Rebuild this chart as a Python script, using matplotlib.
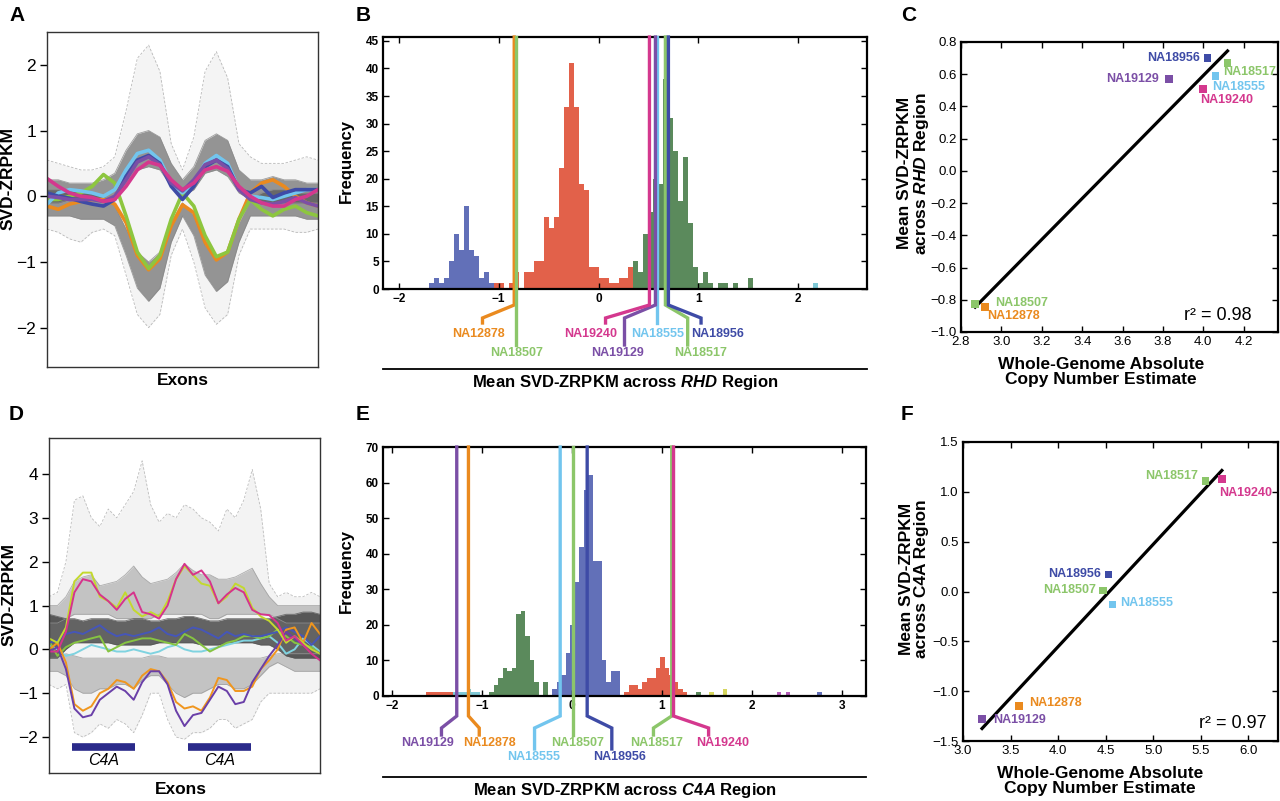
import numpy as np
import matplotlib
matplotlib.use("Agg")
import matplotlib.pyplot as plt
from matplotlib.lines import Line2D
from matplotlib.transforms import blended_transform_factory
from matplotlib.ticker import FixedLocator, FuncFormatter

plt.rcParams['font.family'] = ['Liberation Sans', 'DejaVu Sans']
plt.rcParams['mathtext.fontset'] = 'custom'
plt.rcParams['mathtext.it'] = 'Liberation Sans:italic:bold'
plt.rcParams['mathtext.rm'] = 'Liberation Sans:bold'

# ----------------------------------------------------------------- data
samples = ['NA12878', 'NA18507', 'NA18517', 'NA18555', 'NA18956', 'NA19129', 'NA19240']
sample_colors = {'NA12878': '#ea8a1f', 'NA18507': '#8cc66a', 'NA18517': '#8cc66a',
                 'NA18555': '#72c5ee', 'NA18956': '#3e4ba6', 'NA19129': '#7b4fa6',
                 'NA19240': '#d4388e'}

# RHD region (panels B, C)
rhd_mean = [-0.845, -0.825, 0.67, 0.59, 0.70, 0.57, 0.51]
rhd_copy_number = [2.92, 2.87, 4.12, 4.06, 4.02, 3.83, 4.00]
rhd_r2 = 0.98
# C4A region (panels E, F)
c4a_mean = [-1.15, 0.01, 1.11, -0.13, 0.17, -1.28, 1.13]
c4a_copy_number = [3.59, 4.47, 5.55, 4.57, 4.53, 3.20, 5.72]
c4a_r2 = 0.97

# Panel B histogram (bin width 0.05)
rhd_bin_width = 0.05
rhd_blue_start = -1.70
rhd_blue_counts = [1, 2, 1, 2, 5, 10, 7, 15, 7, 6, 2, 3, 1]
rhd_red_start = -1.05
rhd_red_counts = [1, 1, 0, 1, 3, 0, 3, 3, 5, 5, 13, 11, 13, 22, 33, 41, 33, 19, 18,
                  4, 4, 2, 2, 1, 1, 2, 2, 4]
rhd_green_start = 0.35
rhd_green_counts = [5, 3, 10, 14, 20, 19, 38, 31, 25, 16, 24, 12, 4, 1, 3, 1, 0, 1, 1,
                    0, 1, 0, 0, 2]
rhd_cyan_start = 2.15
rhd_cyan_counts = [1]

# Panel E histogram (bin width 0.05)
c4a_bin_width = 0.05
c4a_redlow_start = -1.62
c4a_redlow_counts = [1, 1, 1, 1, 1, 1]
c4a_cyan_start = -1.32
c4a_cyan_counts = [1, 1, 1, 2, 1, 1]
c4a_green_start = -0.92
c4a_green_counts = [1, 3, 5, 8, 7, 8, 23, 24, 17, 10, 4, 0, 4]
c4a_blue_start = -0.22
c4a_blue_counts = [2, 4, 6, 12, 20, 32, 42, 58, 62, 38, 38, 10, 4, 7, 7]
c4a_red_start = 0.58
c4a_red_counts = [1, 3, 3, 2, 4, 5, 5, 8, 11, 8, 6, 4, 2, 1]
c4a_extra_left = [1.38, 1.53, 1.68, 2.28, 2.38, 2.73]
c4a_extra_counts = [1, 1, 2, 1, 1, 1]
c4a_extra_colors = ['#5b8a5c', '#d6d65e', '#d6d65e', '#b45cb8', '#b45cb8', '#6270b8']

# Panel A profiles (25 positions along exons)
a_NA12878 = [-0.15, -0.2, -0.12, -0.08, -0.05, -0.05, -0.12, -0.4, -0.9, -1.12, -0.95, -0.45,
             -0.13, -0.25, -0.7, -0.97, -0.85, -0.35, 0.05, 0.2, 0.25, 0.15, 0.0, -0.1, -0.15]
a_NA18507 = [-0.05, -0.05, 0.0, 0.05, 0.15, 0.33, 0.2, -0.3, -0.85, -1.1, -0.9, -0.35,
             0.05, -0.15, -0.6, -0.92, -0.85, -0.35, -0.05, -0.2, -0.3, -0.2, -0.15, -0.25, -0.3]
a_NA18555 = [-0.12, 0.05, 0.1, 0.08, 0.05, 0.0, 0.1, 0.4, 0.65, 0.7, 0.55, 0.2,
             0.05, 0.2, 0.5, 0.62, 0.5, 0.1, 0.0, -0.02, -0.05, 0.0, 0.05, 0.1, 0.1]
a_NA18956 = [0.05, 0.0, -0.03, -0.08, -0.12, -0.15, -0.05, 0.3, 0.55, 0.62, 0.5, 0.15,
             -0.05, 0.15, 0.45, 0.55, 0.45, 0.1, 0.05, 0.15, -0.02, 0.05, 0.1, 0.1, 0.1]
a_NA19129 = [0.0, -0.02, -0.05, -0.05, -0.05, -0.08, 0.0, 0.25, 0.52, 0.6, 0.48, 0.2,
             0.08, 0.25, 0.48, 0.55, 0.42, 0.1, -0.05, -0.1, -0.12, -0.08, -0.02, -0.1, -0.15]
a_NA19240 = [0.27, 0.15, 0.05, 0.0, -0.02, -0.08, -0.05, 0.15, 0.4, 0.52, 0.47, 0.25,
             0.1, 0.2, 0.4, 0.45, 0.38, 0.15, 0.0, -0.1, -0.15, -0.15, -0.05, 0.0, 0.1]
# background cohort envelopes (panel A)
a_all_max = [0.55, 0.5, 0.45, 0.4, 0.4, 0.45, 0.6, 1.3, 2.1, 2.3, 1.9, 0.8, 0.4, 0.9, 1.9,
             2.2, 1.8, 0.8, 0.6, 0.5, 0.5, 0.5, 0.55, 0.6, 0.55]
a_all_min = [-0.5, -0.55, -0.65, -0.7, -0.55, -0.5, -0.6, -1.2, -1.8, -2.0, -1.8, -0.9, -0.5,
             -1.0, -1.7, -1.95, -1.8, -0.9, -0.5, -0.5, -0.5, -0.5, -0.55, -0.55, -0.5]
a_high_hi = [0.25, 0.25, 0.2, 0.2, 0.2, 0.25, 0.35, 0.7, 0.95, 1.0, 0.9, 0.5, 0.25, 0.45, 0.85,
             0.95, 0.85, 0.4, 0.25, 0.25, 0.3, 0.25, 0.25, 0.2, 0.2]
a_high_lo = [-0.1, -0.1, -0.05, -0.05, -0.05, -0.05, 0.0, 0.2, 0.4, 0.45, 0.4, 0.15, 0.0, 0.1,
             0.35, 0.4, 0.3, 0.05, -0.05, -0.1, -0.1, -0.1, -0.1, -0.1, -0.1]
a_low_hi = [0.1, 0.1, 0.1, 0.05, 0.05, 0.0, -0.15, -0.5, -0.85, -1.0, -0.85, -0.4, -0.1, -0.3,
            -0.75, -0.95, -0.85, -0.4, -0.05, 0.05, 0.1, 0.1, 0.05, 0.05, 0.05]
a_low_lo = [-0.3, -0.3, -0.3, -0.35, -0.35, -0.35, -0.45, -0.9, -1.4, -1.6, -1.4, -0.7, -0.3,
            -0.6, -1.2, -1.45, -1.3, -0.7, -0.3, -0.3, -0.3, -0.3, -0.3, -0.35, -0.35]

# Panel D profiles (33 positions along exons)
d_NA18517 = [0.25, 0.15, 0.5, 1.55, 1.75, 1.75, 1.2, 1.1, 0.95, 1.3, 0.9, 0.75, 0.85, 0.75,
             1.1, 1.6, 1.9, 1.7, 1.5, 1.45, 1.05, 1.2, 1.5, 1.4, 0.95, 0.75, 0.65, 0.45,
             0.15, 0.3, 0.15, 0.0, -0.1]
d_NA19240 = [-0.05, -0.05, 0.4, 1.3, 1.6, 1.55, 1.25, 1.1, 0.9, 1.15, 1.3, 0.85, 0.8, 0.7,
             1.0, 1.6, 1.95, 1.7, 1.8, 1.55, 1.05, 1.25, 1.4, 1.3, 0.9, 0.8, 0.78, 0.6,
             0.2, 0.3, 0.1, -0.1, -0.25]
d_NA12878 = [0.0, 0.15, -0.3, -1.25, -1.4, -1.3, -1.0, -0.9, -0.7, -0.75, -0.9, -0.6, -0.45,
             -0.5, -0.75, -1.2, -1.35, -1.3, -1.4, -1.1, -0.65, -0.7, -0.95, -0.95, -0.85,
             -0.45, -0.25, 0.0, 0.45, 0.5, 0.15, 0.6, 0.35]
d_NA19129 = [-0.05, 0.05, -0.45, -1.35, -1.55, -1.5, -1.15, -1.0, -0.85, -0.95, -1.15, -0.75,
             -0.5, -0.5, -0.8, -1.4, -1.75, -1.5, -1.45, -1.15, -0.85, -0.95, -1.25, -1.2,
             -0.75, -0.45, -0.15, 0.1, 0.4, 0.25, 0.1, 0.0, -0.1]
d_NA18956 = [0.15, 0.2, 0.35, 0.4, 0.35, 0.45, 0.55, 0.4, 0.3, 0.35, 0.3, 0.35, 0.4, 0.5,
             0.35, 0.3, 0.4, 0.5, 0.45, 0.35, 0.25, 0.4, 0.3, 0.35, 0.3, 0.3, 0.35, 0.4,
             0.5, 0.4, 0.3, 0.1, 0.3]
d_NA18507 = [0.2, -0.15, 0.05, 0.15, 0.2, 0.25, 0.3, -0.05, 0.05, 0.15, 0.2, 0.25, 0.25, 0.2,
             0.15, 0.1, 0.35, 0.25, 0.1, -0.05, 0.05, 0.15, 0.2, 0.3, 0.3, 0.25, 0.3, 0.45,
             0.3, 0.15, 0.1, 0.05, -0.1]
d_NA18555 = [0.1, 0.0, -0.15, -0.1, 0.0, 0.1, 0.05, 0.0, -0.05, -0.05, 0.0, -0.05, -0.1, -0.05,
             0.05, 0.1, 0.0, -0.05, -0.05, 0.0, 0.05, 0.1, 0.15, 0.2, 0.2, 0.25, 0.3, 0.15,
             -0.1, 0.0, 0.25, 0.1, -0.05]
d_all_max = [1.2, 1.3, 2.0, 3.4, 3.5, 3.0, 2.8, 3.2, 3.0, 3.3, 3.6, 4.3, 3.3, 2.9, 3.1, 3.0,
             3.3, 3.2, 3.0, 2.9, 2.7, 3.2, 3.0, 3.4, 4.1, 3.2, 1.5, 1.2, 1.3, 1.2, 1.2, 1.3, 1.2]
d_all_min = [-0.8, -0.9, -0.8, -1.9, -2.0, -1.9, -1.7, -1.8, -1.6, -1.7, -1.9, -1.5, -1.0,
             -1.0, -1.6, -2.0, -2.05, -1.9, -1.9, -1.8, -1.6, -1.6, -1.8, -1.7, -1.6, -1.2,
             -1.0, -1.0, -1.0, -1.0, -1.0, -1.0, -0.9]
d_core_hi = [0.8, 0.75, 0.7, 0.7, 0.65, 0.7, 0.7, 0.7, 0.65, 0.65, 0.7, 0.7, 0.65, 0.65, 0.7,
             0.7, 0.75, 0.75, 0.7, 0.65, 0.65, 0.7, 0.7, 0.7, 0.7, 0.7, 0.7, 0.75, 0.8, 0.8,
             0.85, 0.85, 0.8]
d_core_lo = [-0.2, -0.2, 0.0, 0.15, 0.15, 0.15, 0.15, 0.15, 0.1, 0.1, 0.1, 0.1, 0.1, 0.15,
             0.15, 0.15, 0.15, 0.15, 0.1, 0.1, 0.1, 0.15, 0.15, 0.15, 0.15, 0.1, 0.1, 0.0,
             -0.15, -0.2, -0.2, -0.2, -0.2]
d_upper_hi = [1.0, 1.0, 1.2, 1.55, 1.65, 1.7, 1.45, 1.5, 1.55, 1.7, 1.9, 1.65, 1.5, 1.55, 1.6,
              1.75, 1.95, 1.8, 1.7, 1.7, 1.6, 1.6, 1.65, 1.75, 1.85, 1.5, 1.2, 1.0, 1.0, 1.0,
              1.0, 1.0, 1.0]
d_upper_lo = [0.6, 0.6, 0.7, 0.8, 0.8, 0.8, 0.8, 0.8, 0.7, 0.7, 0.7, 0.7, 0.7, 0.8, 0.8, 0.8,
              0.8, 0.8, 0.8, 0.7, 0.7, 0.8, 0.8, 0.8, 0.8, 0.8, 0.8, 0.7, 0.6, 0.6, 0.6, 0.6, 0.6]
d_lower_hi = [-0.2, -0.2, -0.1, -0.15, -0.2, -0.2, -0.2, -0.2, -0.2, -0.2, -0.2, -0.2, -0.15,
              -0.15, -0.2, -0.2, -0.2, -0.2, -0.2, -0.2, -0.2, -0.2, -0.2, -0.2, -0.2, -0.2,
              -0.15, -0.1, -0.1, -0.1, -0.1, -0.1, -0.1]
d_lower_lo = [-0.5, -0.5, -0.6, -0.9, -1.0, -1.0, -0.9, -0.9, -0.8, -0.8, -0.9, -0.7, -0.6,
              -0.6, -0.8, -1.0, -1.1, -1.0, -1.0, -0.9, -0.8, -0.8, -0.9, -0.9, -0.8, -0.6,
              -0.4, -0.3, -0.4, -0.5, -0.5, -0.5, -0.5]
c4a_gene_spans = [(2.7, 10.1), (16.4, 23.9)]
d_colors = {'NA18517': '#c3d92e', 'NA19240': '#d6338c', 'NA12878': '#f0961e',
            'NA19129': '#6a3fa8', 'NA18956': '#4656b8', 'NA18507': '#86c441',
            'NA18555': '#7fd3e0'}

# ----------------------------------------------------------------- layout
W, H = 1280, 801
fig = plt.figure(figsize=(W / 100, H / 100), dpi=100)


def fx(px):
    return px / W


def fy(py):
    return 1 - py / H


def add_ax(l, t, r, b):
    return fig.add_axes([fx(l), fy(b), (r - l) / W, (b - t) / H])


def minus_fmt(fmt):
    return FuncFormatter(lambda v, p: (fmt % v).replace('-', '\u2212'))


def panel_letter(px, py, s):
    fig.text(fx(px), fy(py), s, fontsize=15, fontweight='bold', va='top', ha='left')


def fig_line(x0, x1, py):
    fig.add_artist(Line2D([fx(x0), fx(x1)], [fy(py), fy(py)], transform=fig.transFigure,
                          color='black', lw=1.3))


def band(ax, x, lo, hi, color, alpha, edge):
    ax.fill_between(x, lo, hi, color=color, alpha=alpha, lw=0)
    ax.plot(x, lo, color=edge, lw=0.6, alpha=0.8)
    ax.plot(x, hi, color=edge, lw=0.6, alpha=0.8)


# ------------------------------------------------- profile panels A and D
def profile_axes(ax):
    for s in ax.spines.values():
        s.set_linewidth(1.0)
        s.set_color('#333333')
    ax.set_xticks([])
    ax.tick_params(axis='y', direction='out', length=5, width=1, labelsize=12.5, pad=3)


axA = add_ax(47, 32, 318, 367)
xa = np.arange(len(a_all_max))
axA.fill_between(xa, a_all_min, a_all_max, color='#d0d0d0', alpha=0.22, lw=0)
axA.plot(xa, a_all_max, color='#b8b8b8', lw=0.6, ls=(0, (3, 2)))
axA.plot(xa, a_all_min, color='#b8b8b8', lw=0.6, ls=(0, (3, 2)))
band(axA, xa, a_high_lo, a_high_hi, '#454545', 0.55, '#888888')
band(axA, xa, a_low_lo, a_low_hi, '#454545', 0.55, '#888888')
for name, prof in [('NA12878', a_NA12878), ('NA18507', a_NA18507), ('NA18555', a_NA18555),
                   ('NA18956', a_NA18956), ('NA19129', a_NA19129), ('NA19240', a_NA19240)]:
    col = {'NA18507': '#8dc63f'}.get(name, sample_colors[name])
    axA.plot(xa, prof, color=col, lw=2.6, solid_capstyle='round', solid_joinstyle='round')
axA.set_xlim(0, len(xa) - 1)
axA.set_ylim(-2.6, 2.5)
axA.yaxis.set_major_locator(FixedLocator([-2, -1, 0, 1, 2]))
axA.yaxis.set_major_formatter(minus_fmt('%d'))
profile_axes(axA)

axD = add_ax(49, 438, 320, 773)
xd = np.arange(len(d_all_max))
axD.fill_between(xd, d_all_min, d_all_max, color='#d0d0d0', alpha=0.25, lw=0)
axD.plot(xd, d_all_max, color='#bcbcbc', lw=0.6, ls=(0, (3, 2)))
axD.plot(xd, d_all_min, color='#bcbcbc', lw=0.6, ls=(0, (3, 2)))
band(axD, xd, d_upper_lo, d_upper_hi, '#8a8a8a', 0.45, '#9a9a9a')
band(axD, xd, d_lower_lo, d_lower_hi, '#8a8a8a', 0.45, '#9a9a9a')
band(axD, xd, d_core_lo, d_core_hi, '#333333', 0.75, '#555555')
for name, prof in [('NA18555', d_NA18555), ('NA18507', d_NA18507), ('NA18956', d_NA18956),
                   ('NA12878', d_NA12878), ('NA19129', d_NA19129), ('NA18517', d_NA18517),
                   ('NA19240', d_NA19240)]:
    axD.plot(xd, prof, color=d_colors[name], lw=1.4, solid_joinstyle='round')
for (g0, g1) in c4a_gene_spans:
    axD.plot([g0, g1], [-2.23, -2.23], color='#2a2a8a', lw=5.5, solid_capstyle='butt')
    axD.text((g0 + g1) / 2, -2.53, 'C4A', fontsize=11.5, fontstyle='italic',
             ha='center', va='center')
axD.set_xlim(0, len(xd) - 1)
axD.set_ylim(-2.82, 4.82)
axD.yaxis.set_major_locator(FixedLocator([-2, -1, 0, 1, 2, 3, 4]))
axD.yaxis.set_major_formatter(minus_fmt('%d'))
profile_axes(axD)

for (cx, cy) in [(8, 179), (9, 594)]:
    fig.text(fx(cx), fy(cy), 'SVD-ZRPKM', rotation=90, fontsize=12.5, fontweight='bold',
             ha='center', va='center')
fig.text(fx(183), fy(380), 'Exons', fontsize=12.5, fontweight='bold', ha='center', va='center')
fig.text(fx(181), fy(789), 'Exons', fontsize=12.5, fontweight='bold', ha='center', va='center')


# ------------------------------------------------- histogram panels B and E
def draw_hist(ax, start, counts, width, color):
    lefts = start + width * np.arange(len(counts))
    ax.bar(lefts, counts, width=width, align='edge', color=color, linewidth=0)


def hist_axes(ax):
    for s in ax.spines.values():
        s.set_linewidth(1.6)
    ax.tick_params(direction='in', top=True, right=True, length=4, width=1,
                   labelsize=8.5, pad=3)
    for lab in ax.get_xticklabels() + ax.get_yticklabels():
        lab.set_fontweight('bold')


def leaders(ax, values, layout, py_top, py_bend0, py_bend1, py_end, py_text):
    tr = blended_transform_factory(ax.transData, fig.transFigure)
    for name, val in zip(samples, values):
        end_x, text_x, row = layout[name]
        col = sample_colors[name]
        if end_x is None:
            xs = [val, val]
            ys = [fy(py_top), fy(py_end[row])]
        else:
            xs = [val, val, end_x, end_x]
            ys = [fy(py_top), fy(py_bend0), fy(py_bend1), fy(py_end[row])]
        ax.add_line(Line2D(xs, ys, transform=tr, color=col, lw=2.4, clip_on=False,
                           solid_joinstyle='miter', zorder=5))
        ax.text(text_x, fy(py_text[row]), name, transform=tr, color=col, fontsize=9,
                fontweight='bold', ha='center', va='center')


axB = add_ax(383, 37, 867, 289)
draw_hist(axB, rhd_blue_start, rhd_blue_counts, rhd_bin_width, '#6270b8')
draw_hist(axB, rhd_red_start, rhd_red_counts, rhd_bin_width, '#e2614a')
draw_hist(axB, rhd_green_start, rhd_green_counts, rhd_bin_width, '#5b8a5c')
draw_hist(axB, rhd_cyan_start, rhd_cyan_counts, rhd_bin_width, '#7fc9d6')
axB.set_xlim(-2.16, 2.69)
axB.set_ylim(0, 45.7)
axB.xaxis.set_major_locator(FixedLocator([-2, -1, 0, 1, 2]))
axB.xaxis.set_major_formatter(minus_fmt('%d'))
axB.yaxis.set_major_locator(FixedLocator(list(range(0, 46, 5))))
hist_axes(axB)
rhd_leader_layout = {  # leader end x, label centre x, label row
    'NA12878': (-1.163, -1.20, 0), 'NA18507': (None, -0.82, 1),
    'NA19240': (0.07, -0.08, 0), 'NA19129': (0.26, 0.19, 1),
    'NA18555': (None, 0.59, 0), 'NA18956': (1.027, 1.19, 0),
    'NA18517': (0.893, 1.02, 1)}
leaders(axB, rhd_mean, rhd_leader_layout, 37, 305, 318, (323, 345), (334, 353))
fig_line(383, 867, 369)
fig.text(fx(625), fy(382), r'Mean SVD-ZRPKM across $\mathit{RHD}$ Region', fontsize=12,
         fontweight='bold', ha='center', va='center')

axE = add_ax(383, 447, 866, 696)
draw_hist(axE, c4a_redlow_start, c4a_redlow_counts, c4a_bin_width, '#e2614a')
draw_hist(axE, c4a_cyan_start, c4a_cyan_counts, c4a_bin_width, '#7fc9d6')
draw_hist(axE, c4a_green_start, c4a_green_counts, c4a_bin_width, '#5b8a5c')
draw_hist(axE, c4a_blue_start, c4a_blue_counts, c4a_bin_width, '#6270b8')
draw_hist(axE, c4a_red_start, c4a_red_counts, c4a_bin_width, '#e2614a')
axE.bar(c4a_extra_left, c4a_extra_counts, width=c4a_bin_width, align='edge',
        color=c4a_extra_colors, linewidth=0)
axE.set_xlim(-2.1, 3.27)
axE.set_ylim(0, 70)
axE.xaxis.set_major_locator(FixedLocator([-2, -1, 0, 1, 2, 3]))
axE.xaxis.set_major_formatter(minus_fmt('%d'))
axE.yaxis.set_major_locator(FixedLocator(list(range(0, 71, 10))))
hist_axes(axE)
c4a_leader_layout = {
    'NA12878': (-1.03, -0.915, 0), 'NA18507': (None, 0.063, 0),
    'NA18517': (0.907, 0.937, 0), 'NA18555': (-0.415, -0.42, 1),
    'NA18956': (0.444, 0.526, 1), 'NA19129': (-1.45, -1.61, 0),
    'NA19240': (1.52, 1.68, 0)}
leaders(axE, c4a_mean, c4a_leader_layout, 447, 716, 728, (735, 749), (743, 757))
fig_line(383, 866, 777)
fig.text(fx(625), fy(790), r'Mean SVD-ZRPKM across $\mathit{C4A}$ Region', fontsize=12,
         fontweight='bold', ha='center', va='center')

for cy in (161, 571):
    fig.text(fx(346), fy(cy), 'Frequency', rotation=90, fontsize=12, fontweight='bold',
             ha='center', va='center')


# ------------------------------------------------- scatter panels C and F
def scatter_panel(ax, cn, mean, r2, labels_pos, r2_pos):
    cols = [sample_colors[s] for s in samples]
    ax.scatter(cn, mean, marker='s', s=30, c=cols, linewidths=0, zorder=3)
    slope, icpt = np.polyfit(cn, mean, 1)
    xs = np.array([min(cn), max(cn)])
    ax.plot(xs, slope * xs + icpt, color='black', lw=2.3, zorder=2)
    for s in samples:
        tx, ty, ha = labels_pos[s]
        ax.text(tx, ty, s, color=sample_colors[s], fontsize=9, fontweight='bold',
                ha=ha, va='center')
    ax.text(r2_pos[0], r2_pos[1], 'r\u00b2 = %.2f' % r2, fontsize=13, ha='right',
            va='center')
    for sp in ax.spines.values():
        sp.set_linewidth(1.6)
    ax.tick_params(direction='in', top=True, right=True, length=4, width=1,
                   labelsize=9.5, pad=3)


axC = add_ax(961, 42, 1278, 332)
rhd_label_pos = {'NA18956': (3.985, 0.70, 'right'), 'NA19129': (3.78, 0.57, 'right'),
                 'NA18517': (4.10, 0.615, 'left'), 'NA18555': (4.045, 0.52, 'left'),
                 'NA19240': (3.985, 0.44, 'left'), 'NA18507': (2.97, -0.82, 'left'),
                 'NA12878': (2.93, -0.90, 'left')}
scatter_panel(axC, rhd_copy_number, rhd_mean, rhd_r2, rhd_label_pos, (4.24, -0.90))
axC.set_xlim(2.8, 4.37)
axC.set_ylim(-1.0, 0.8)
axC.xaxis.set_major_locator(FixedLocator([2.8, 3.0, 3.2, 3.4, 3.6, 3.8, 4.0, 4.2]))
axC.yaxis.set_major_locator(FixedLocator([-1.0, -0.8, -0.6, -0.4, -0.2, 0.0, 0.2, 0.4, 0.6, 0.8]))
axC.xaxis.set_major_formatter(minus_fmt('%.1f'))
axC.yaxis.set_major_formatter(minus_fmt('%.1f'))

axF = add_ax(963, 442, 1278, 741)
c4a_label_pos = {'NA18517': (5.47, 1.16, 'right'), 'NA19240': (5.69, 0.99, 'left'),
                 'NA18956': (4.455, 0.18, 'right'), 'NA18507': (4.40, 0.015, 'right'),
                 'NA18555': (4.65, -0.12, 'left'), 'NA12878': (3.69, -1.12, 'left'),
                 'NA19129': (3.32, -1.29, 'left')}
scatter_panel(axF, c4a_copy_number, c4a_mean, c4a_r2, c4a_label_pos, (6.19, -1.32))
axF.set_xlim(3.0, 6.31)
axF.set_ylim(-1.5, 1.5)
axF.xaxis.set_major_locator(FixedLocator([3.0, 3.5, 4.0, 4.5, 5.0, 5.5, 6.0]))
axF.yaxis.set_major_locator(FixedLocator([-1.5, -1.0, -0.5, 0.0, 0.5, 1.0, 1.5]))
axF.xaxis.set_major_formatter(minus_fmt('%.1f'))
axF.yaxis.set_major_formatter(minus_fmt('%.1f'))

fig.text(fx(914), fy(173), 'Mean SVD-ZRPKM\nacross $\\mathit{RHD}$ Region', rotation=90,
         fontsize=12.5, fontweight='bold', ha='center', va='center', multialignment='center',
         linespacing=1.05)
fig.text(fx(914), fy(579), 'Mean SVD-ZRPKM\nacross C4A Region', rotation=90,
         fontsize=12.5, fontweight='bold', ha='center', va='center', multialignment='center',
         linespacing=1.05)
fig.text(fx(1101), fy(372), 'Whole-Genome Absolute\nCopy Number Estimate', fontsize=12.5,
         fontweight='bold', ha='center', va='center', multialignment='center', linespacing=1.0)
fig.text(fx(1100), fy(781), 'Whole-Genome Absolute\nCopy Number Estimate', fontsize=12.5,
         fontweight='bold', ha='center', va='center', multialignment='center', linespacing=1.0)

# panel letters
panel_letter(9, 6, 'A')
panel_letter(356, 6, 'B')
panel_letter(901, 6, 'C')
panel_letter(9, 405, 'D')
panel_letter(356, 405, 'E')
panel_letter(901, 405, 'F')

fig.savefig('out.png', dpi=100)
